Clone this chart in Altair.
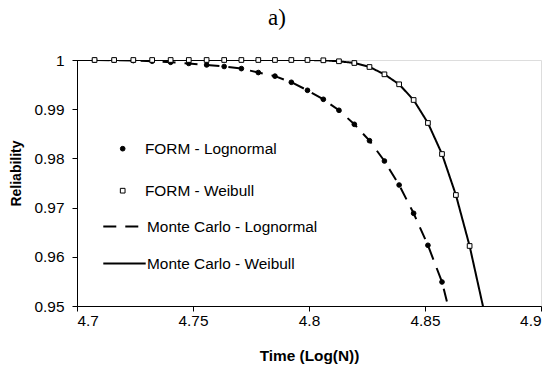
import altair as alt
import pandas as pd

# log10(N) positions of the computed points
x_vals = [4.69897, 4.70757, 4.71600, 4.72428, 4.73239, 4.74036, 4.74819, 4.75587,
          4.76343, 4.77085, 4.77815, 4.78533, 4.79239, 4.79934, 4.80618, 4.81291,
          4.81954, 4.82607, 4.83251, 4.83885, 4.84510, 4.85126, 4.85733, 4.86332,
          4.86923, 4.87506]

# FORM - Lognormal (x_vals[1] .. x_vals[22])
form_logn = [0.99998, 0.99995, 0.99988, 0.99975, 0.99953, 0.99930, 0.99900, 0.99868,
             0.99825, 0.99745, 0.99672, 0.99547, 0.99384, 0.99201, 0.98978, 0.98693,
             0.98360, 0.97947, 0.97459, 0.96884, 0.96234, 0.95488]
# FORM - Weibull (x_vals[1] .. x_vals[24])
form_weib = [1.0, 1.0, 1.0, 1.0, 1.0, 1.0, 1.0, 1.0, 1.0, 1.0, 1.0, 1.0, 1.0,
             0.99994, 0.99974, 0.99939, 0.99858, 0.99709, 0.99506, 0.99187,
             0.98720, 0.98089, 0.97256, 0.96220]
# Monte Carlo - Lognormal (x_vals[0] .. x_vals[23])
mc_logn = [1.0, 0.99998, 0.99995, 0.99988, 0.99975, 0.99953, 0.99930, 0.99900,
           0.99868, 0.99825, 0.99745, 0.99672, 0.99547, 0.99384, 0.99201, 0.98978,
           0.98693, 0.98360, 0.97947, 0.97459, 0.96884, 0.96234, 0.95488, 0.94370]
# Monte Carlo - Weibull (x_vals[0] .. x_vals[25])
mc_weib = [1.0, 1.0, 1.0, 1.0, 1.0, 1.0, 1.0, 1.0, 1.0, 1.0, 1.0, 1.0, 1.0, 1.0,
           0.99994, 0.99974, 0.99939, 0.99858, 0.99709, 0.99506, 0.99187,
           0.98720, 0.98089, 0.97256, 0.96220, 0.94980]

pt_names = ["FORM - Lognormal", "FORM - Weibull"]
ln_names = ["Monte Carlo - Lognormal", "Monte Carlo - Weibull"]

pts = pd.concat([
    pd.DataFrame({"x": x_vals[1:1 + len(form_logn)], "R": form_logn, "pt": pt_names[0]}),
    pd.DataFrame({"x": x_vals[1:1 + len(form_weib)], "R": form_weib, "pt": pt_names[1]}),
])
lns = pd.concat([
    pd.DataFrame({"x": x_vals[:len(mc_logn)], "R": mc_logn, "ln": ln_names[0]}),
    pd.DataFrame({"x": x_vals[:len(mc_weib)], "R": mc_weib, "ln": ln_names[1]}),
])

FONT = "Liberation Sans"
FS = 15.4

xenc = alt.X("x:Q", scale=alt.Scale(domain=[4.7, 4.9], nice=False, zero=False),
             axis=alt.Axis(values=[4.7, 4.75, 4.8, 4.85, 4.9], format=".2~f",
                           title="Time (Log(N))", titleFontWeight="bold",
                           titleFont=FONT, titleFontSize=FS, titleColor="black",
                           titleX=232, titleY=49, titleAlign="center",
                           titleBaseline="middle", tickSize=5, labelPadding=9,
                           labelBaseline="middle", labelFont=FONT, labelFontSize=FS,
                           labelColor="black", domainColor="black", tickColor="black",
                           grid=False))
yenc = alt.Y("R:Q", scale=alt.Scale(domain=[0.95, 1.0], nice=False, zero=False),
             axis=alt.Axis(values=[0.95, 0.96, 0.97, 0.98, 0.99, 1.0], format=".2~f",
                           title="Reliability", titleFontWeight="bold",
                           titleFont=FONT, titleFontSize=14, titleColor="black",
                           titleX=-61, titleY=113, titleAngle=270,
                           titleAlign="center", titleBaseline="middle",
                           tickSize=5, labelPadding=8, labelBaseline="middle",
                           labelFont=FONT, labelFontSize=FS, labelColor="black",
                           domainColor="black", tickColor="black", grid=False))

lines = alt.Chart(lns).mark_line(color="black", strokeWidth=2, clip=True).encode(
    x=xenc, y=yenc,
    strokeDash=alt.StrokeDash(
        "ln:N",
        scale=alt.Scale(domain=ln_names, range=[[13, 9], [1, 0]]),
        legend=alt.Legend(orient="none", legendX=25, legendY=144, title=None,
                          symbolType="stroke", symbolSize=1800,
                          symbolStrokeWidth=2, symbolStrokeColor="black",
                          labelFont=FONT, labelFontSize=FS, labelColor="black",
                          labelOffset=0, rowPadding=6, padding=0, labelLimit=300),
    ),
)

pt_legend = alt.Legend(orient="none", legendX=38, legendY=81, title=None,
                       symbolSize=22, symbolStrokeColor="black",
                       symbolStrokeWidth=1,
                       labelFont=FONT, labelFontSize=FS,
                       labelColor="black", labelOffset=14.5,
                       rowPadding=25, padding=0, labelLimit=300)

points = alt.Chart(pts).mark_point(filled=True, strokeWidth=1,
                                   size=22, opacity=1).encode(
    x=xenc, y=yenc,
    shape=alt.Shape("pt:N", scale=alt.Scale(domain=pt_names, range=["circle", "square"]),
                    legend=pt_legend),
    fill=alt.Fill("pt:N", scale=alt.Scale(domain=pt_names, range=["black", "white"]),
                  legend=pt_legend),
    stroke=alt.Stroke("pt:N", scale=alt.Scale(domain=pt_names, range=["black", "black"]),
                      legend=pt_legend),
)

chart = alt.layer(lines, points).properties(
    width=464, height=246,
    autosize="none",
    padding={"left": 77, "top": 60, "right": 18, "bottom": 65},
    title=alt.Title("a)", font="Liberation Serif", fontSize=23, fontWeight="normal",
                    anchor="middle", dx=-32, offset=5, baseline="alphabetic",
                    color="black"),
).configure_view(stroke=None).configure(background="white")

chart.save("out.html", embed_options={"renderer": "svg", "actions": False})
